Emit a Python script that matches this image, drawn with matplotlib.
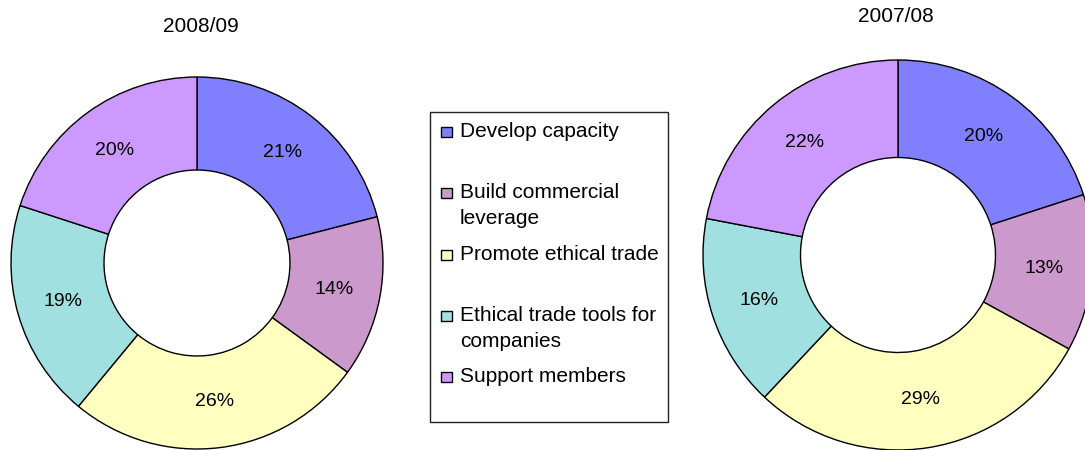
import matplotlib
matplotlib.use('Agg')
import matplotlib.pyplot as plt
from matplotlib.patches import Rectangle

plt.rcParams['font.family'] = ['Liberation Sans', 'DejaVu Sans']

categories = ['Develop capacity', 'Build commercial\nleverage', 'Promote ethical trade',
              'Ethical trade tools for\ncompanies', 'Support members']
share_0809 = [21, 14, 26, 19, 20]
share_0708 = [20, 13, 29, 16, 22]
colors = ['#8080FF', '#CC99CC', '#FFFFC0', '#A0E0E0', '#CC99FF']

W, H = 1085, 450
fig = plt.figure(figsize=(W / 100, H / 100), dpi=100)


def donut(cx, cy, r, values, title, tx, ty):
    pad = 1.05
    s = r * pad
    ax = fig.add_axes([(cx - s) / W, (H - cy - s) / H, 2 * s / W, 2 * s / H])
    ax.pie(values, colors=colors, startangle=90, counterclock=False, radius=1,
           autopct='%1.0f%%', pctdistance=0.75,
           wedgeprops=dict(width=0.5, edgecolor='black', linewidth=1),
           textprops=dict(fontsize=14, color='black'))
    ax.set_xlim(-pad, pad)
    ax.set_ylim(-pad, pad)
    ax.axis('off')
    fig.text(tx / W, 1 - ty / H, title, ha='center', va='center', fontsize=15)


donut(197, 263, 186, share_0809, '2008/09', 201, 26)
donut(898, 255, 195, share_0708, '2007/08', 896, 16)

# legend drawn in pixel coordinates
lax = fig.add_axes([0, 0, 1, 1])
lax.set_xlim(0, W)
lax.set_ylim(H, 0)
lax.axis('off')
lax.add_patch(Rectangle((430, 112), 238, 310, fill=False, edgecolor='#222222', lw=1))
for i, (lab, c) in enumerate(zip(categories, colors)):
    base = 137 + i * 61.3
    lax.add_patch(Rectangle((441, base - 10), 11, 10, facecolor=c, edgecolor='black', lw=1))
    for j, line in enumerate(lab.split('\n')):
        lax.text(460, base + j * 26, line, ha='left', va='baseline', fontsize=15)

fig.savefig('out.png', dpi=100)
